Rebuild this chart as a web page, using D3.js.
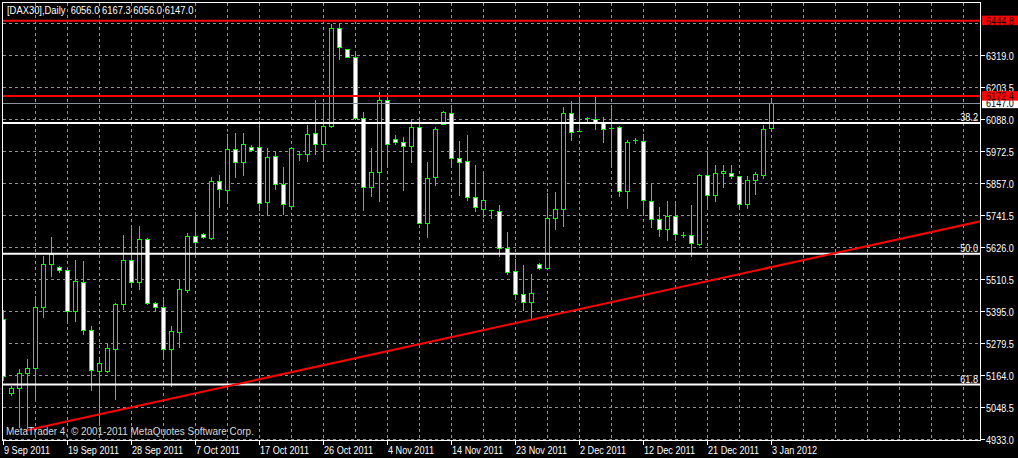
<!DOCTYPE html>
<html><head><meta charset="utf-8">
<script src="https://cdn.jsdelivr.net/npm/d3@7"></script>
<style>
html,body{margin:0;padding:0;background:#000;overflow:hidden}
svg{display:block}
text{font-family:"Liberation Sans",Arial,sans-serif;font-size:11px}
</style></head><body>
<svg id="chart" width="1018" height="458"></svg>
<script>
// ---------------- data ----------------
const symbol = "[DAX30],Daily";
const dates = ["2011-09-09","2011-09-11","2011-09-12","2011-09-13","2011-09-14","2011-09-15","2011-09-16","2011-09-18","2011-09-19","2011-09-20",
"2011-09-21","2011-09-22","2011-09-23","2011-09-25","2011-09-26","2011-09-27","2011-09-28","2011-09-29","2011-09-30","2011-10-02",
"2011-10-03","2011-10-04","2011-10-05","2011-10-06","2011-10-07","2011-10-09","2011-10-10","2011-10-11","2011-10-12","2011-10-13",
"2011-10-14","2011-10-16","2011-10-17","2011-10-18","2011-10-19","2011-10-20","2011-10-21","2011-10-23","2011-10-24","2011-10-25",
"2011-10-26","2011-10-27","2011-10-28","2011-10-30","2011-10-31","2011-11-01","2011-11-02","2011-11-03","2011-11-04","2011-11-06",
"2011-11-07","2011-11-08","2011-11-09","2011-11-10","2011-11-11","2011-11-13","2011-11-14","2011-11-15","2011-11-16","2011-11-17",
"2011-11-18","2011-11-20","2011-11-21","2011-11-22","2011-11-23","2011-11-24","2011-11-25","2011-11-27","2011-11-28","2011-11-29",
"2011-11-30","2011-12-01","2011-12-02","2011-12-04","2011-12-05","2011-12-06","2011-12-07","2011-12-08","2011-12-09","2011-12-11",
"2011-12-12","2011-12-13","2011-12-14","2011-12-15","2011-12-16","2011-12-18","2011-12-19","2011-12-20","2011-12-21","2011-12-22",
"2011-12-23","2011-12-27","2011-12-28","2011-12-29","2011-12-30","2012-01-02","2012-01-03"];
const open = [5365.0,5098.0,5116.0,5170.1,5188.2,5410.5,5563.6,5552.7,5541.9,5393.9,
5498.6,5326.4,5179.5,5179.5,5256.8,5419.2,5578.0,5500.8,5653.8,5422.8,
5410.5,5256.8,5320.3,5470.8,5665.7,5671.8,5659.6,5864.2,5830.7,5978.6,
5931.7,5985.8,5985.8,5787.3,5953.4,5852.3,5775.1,5960.6,5960.6,6036.4,
5996.7,6062.7,6415.4,6339.6,6312.9,6090.5,5843.7,5895.6,6156.6,6014.7,
6006.1,5991.6,6058.0,5713.7,5879.8,6069.9,6108.6,5946.1,5936.4,5805.4,
5764.3,5759.6,5756.0,5621.3,5539.4,5455.3,5428.6,5563.6,5549.1,5729.6,
5762.1,6108.6,6045.0,6090.5,6086.9,6072.5,6056.6,6058.0,5829.2,6011.1,
6009.7,5793.1,5725.9,5689.9,5737.9,5670.4,5668.2,5636.8,5884.8,5812.6,
5892.0,5892.0,5881.2,5780.1,5866.7,5884.8,6056.0];
const high = [5402.2,5127.9,5185.7,5221.8,5449.2,5597.1,5662.1,5560.0,5557.4,5579.1,
5575.5,5340.9,5232.5,5278.5,5425.0,5672.9,5705.4,5705.4,5658.5,5428.6,
5440.8,5340.9,5512.8,5680.1,5753.4,5677.6,5879.8,5885.9,6033.9,6037.5,
6037.5,5994.2,6080.8,5985.8,5976.1,5915.8,5988.0,5970.0,6066.4,6159.1,
6144.7,6430.9,6430.9,6340.7,6334.5,6113.3,5985.8,6189.0,6184.4,6030.3,
6024.1,6086.9,6096.3,5933.9,6062.7,6116.9,6128.8,6012.2,6030.3,5922.0,
5903.9,5759.6,5777.6,5681.2,5585.2,5564.6,5528.6,5570.8,5823.5,5825.6,
6132.4,6153.0,6168.5,6098.8,6168.5,6096.3,6138.5,6066.3,6014.7,6020.5,
6033.9,5853.9,5771.5,5795.6,5792.0,5681.2,5777.6,5892.0,5970.0,5922.0,
5922.0,5922.0,5882.3,5882.3,5897.8,6069.9,6167.3];
const low = [5142.4,5091.8,4975.0,4965.8,5067.6,5370.8,5518.8,5533.2,5356.4,5356.4,
5310.9,5107.3,4985.0,5174.8,5076.3,5402.2,5480.5,5474.4,5416.7,5395.0,
5224.3,5121.7,5264.0,5461.0,5604.3,5654.9,5653.8,5767.8,5787.3,5876.2,
5883.4,5976.1,5757.0,5744.0,5834.3,5744.0,5765.7,5940.0,5933.9,5958.1,
5940.0,6056.6,6303.5,6309.3,6088.0,5757.0,5807.6,5789.5,5915.8,5994.2,
5829.2,5930.3,5712.6,5660.3,5846.2,6067.4,5915.8,5810.1,5793.1,5753.4,
5733.2,5729.6,5591.5,5525.0,5437.3,5398.6,5365.0,5545.5,5545.5,5687.4,
5699.3,6012.2,6042.2,6078.3,6050.8,6003.9,5915.8,5807.6,5763.2,6000.3,
5748.2,5696.2,5663.2,5648.8,5648.8,5660.3,5593.5,5633.2,5759.6,5789.5,
5841.5,5874.0,5759.6,5765.7,5813.7,5874.0,6056.0];
const close = [5161.5,5116.0,5170.1,5188.2,5410.5,5563.6,5599.7,5541.9,5393.9,5502.2,
5326.4,5182.1,5206.2,5260.4,5420.3,5578.0,5500.8,5653.8,5422.8,5410.5,
5256.8,5322.8,5473.3,5665.7,5645.1,5660.3,5864.2,5834.3,5978.6,5931.7,
5996.7,5977.2,5783.7,5949.8,5852.3,5780.1,5982.3,5959.9,6032.8,5996.7,
6062.7,6415.4,6349.0,6312.9,6090.5,5843.7,5895.6,6156.6,5996.7,6006.1,
5991.6,6058.0,5713.7,5876.2,6051.9,6112.2,5948.3,5931.7,5805.4,5769.3,
5795.6,5757.8,5621.3,5536.9,5455.3,5428.6,5458.9,5549.1,5729.6,5762.1,
6108.6,6042.2,6045.0,6090.5,6078.3,6050.8,6056.6,5829.2,6006.1,6011.1,
5795.6,5725.9,5690.9,5737.9,5671.8,5670.4,5639.4,5884.8,5812.6,5892.0,
5900.3,5881.2,5780.1,5866.7,5888.4,6051.9,6147.0];
const yTicks = [4933.0,5048.5,5164.0,5279.5,5395.0,5510.5,5626.0,5741.5,5857.0,5972.5,6088.0,6203.5,6319.0,6434.5];
const yTickLabels = ["4933.0","5048.5","5164.0","5279.5","5395.0","5510.5","5626.0","5741.5","5857.0","5972.5","6088.0","6203.5","6319.0"];
const redLevels = [6444.8, 6172.4];
const bidPrice = 6147.0;
const fibLabels = ["38.2","50.0","61.8"];
const fibValues = [6075.0, 5603.3, 5131.5];
const trendIdx = [3, 66];
const trendPrice = [4965.8, 5365.0];
const copyright = "MetaTrader 4, \u00A9 2001-2011 MetaQuotes Software Corp.";

// ---------------- layout ----------------
const W = 1018, H = 458;
const L = 3, R = 980, T = 3, B = 440;
const SX = 0.83;    // squeeze for axis labels (MT4 narrow UI font)
const SXT = 0.855;  // title
const SXC = 0.905;  // copyright
const svg = d3.select("#chart");
svg.append("rect").attr("width",W).attr("height",H).attr("fill","#000");
svg.append("defs").append("clipPath").attr("id","clip")
  .append("rect").attr("x",L).attr("y",T).attr("width",R-L).attr("height",B-T);

function at(sel, fx, fy, sx){
  const s = sx || SX;
  return sel.attr("transform",(d,i)=>`translate(${fx(d,i)},${fy(d,i)}) scale(${s},1)`);
}

const n = dates.length;
const x = d3.scaleLinear().domain([0, n-1]).range([3.5, 3.5 + 8*(n-1)]);
const y = d3.scaleLinear().domain([4933.0, 6434.5]).range([439.5, 23.5]);
const parse = d3.timeParse("%Y-%m-%d");
const fmtDate = d3.timeFormat("%-d %b %Y");
const fmtPrice = d3.format(".1f");

const gridColor = "#8c949c";
const grid = svg.append("g").attr("shape-rendering","crispEdges");
grid.selectAll("line.h").data(yTicks).join("line").attr("class","h")
  .attr("x1",L).attr("x2",R).attr("y1",d=>y(d)).attr("y2",d=>y(d))
  .attr("stroke",gridColor).attr("stroke-dasharray","3,3");
const maxIdx = Math.floor(x.invert(R));
grid.selectAll("line.v").data(d3.range(4, maxIdx+1, 4)).join("line").attr("class","v")
  .attr("x1",d=>x(d)).attr("x2",d=>x(d)).attr("y1",T).attr("y2",B)
  .attr("stroke",gridColor).attr("stroke-dasharray","3,3");

// candles
const bars = d3.range(n);
const cg = svg.append("g").attr("clip-path","url(#clip)").attr("shape-rendering","crispEdges");
cg.selectAll("line.wick").data(bars).join("line").attr("class","wick")
  .attr("x1",i=>x(i)).attr("x2",i=>x(i))
  .attr("y1",i=>y(high[i])).attr("y2",i=>y(low[i]))
  .attr("stroke","#00ff00");
const isDoji = i => Math.abs(y(open[i]) - y(close[i])) < 1;
cg.selectAll("rect.body").data(bars.filter(i=>!isDoji(i))).join("rect").attr("class","body")
  .attr("x",i=>x(i)-2).attr("width",4)
  .attr("y",i=>Math.min(y(open[i]),y(close[i])))
  .attr("height",i=>Math.abs(y(open[i])-y(close[i])))
  .attr("fill",i=>close[i]>=open[i] ? "#000" : "#fff")
  .attr("stroke","#00ff00");
cg.selectAll("line.doji").data(bars.filter(isDoji)).join("line").attr("class","doji")
  .attr("x1",i=>x(i)-2.5).attr("x2",i=>x(i)+2.5)
  .attr("y1",i=>y(close[i])).attr("y2",i=>y(close[i]))
  .attr("stroke","#00ff00");

// objects
const og = svg.append("g").attr("clip-path","url(#clip)");
og.append("line").attr("x1",L).attr("x2",R)
  .attr("y1",Math.floor(y(bidPrice))+0.5).attr("y2",Math.floor(y(bidPrice))+0.5)
  .attr("stroke","#8a929a").attr("shape-rendering","crispEdges");
og.selectAll("line.fib").data(fibValues).join("line").attr("class","fib")
  .attr("x1",L).attr("x2",R).attr("y1",d=>y(d)).attr("y2",d=>y(d))
  .attr("stroke","#fff").attr("stroke-width",2);
at(og.selectAll("text.fib").data(fibValues).join("text").attr("class","fib"),
   ()=>R-2, d=>y(d)-2)
  .attr("text-anchor","end").attr("fill","#fff").text((d,i)=>fibLabels[i]);
og.selectAll("line.red").data(redLevels).join("line").attr("class","red")
  .attr("x1",L).attr("x2",R).attr("y1",d=>y(d)).attr("y2",d=>y(d))
  .attr("stroke","#ff0000").attr("stroke-width",2);
const slope = (trendPrice[1]-trendPrice[0])/(trendIdx[1]-trendIdx[0]);
const farIdx = maxIdx + 2;
og.append("line")
  .attr("x1",x(trendIdx[0])-2).attr("y1",y(trendPrice[0]))
  .attr("x2",x(farIdx)).attr("y2",y(trendPrice[0] + slope*(farIdx-trendIdx[0])))
  .attr("stroke","#ff0000").attr("stroke-width",2);

// frame
svg.append("rect").attr("x",2.5).attr("y",2.5).attr("width",R-2).attr("height",B-2)
  .attr("fill","none").attr("stroke","#fff").attr("shape-rendering","crispEdges");

// right price axis
const ax = svg.append("g");
ax.selectAll("line.tk").data(yTicks.slice(0, yTickLabels.length)).join("line").attr("class","tk")
  .attr("x1",R+1).attr("x2",R+5).attr("y1",d=>y(d)).attr("y2",d=>y(d))
  .attr("stroke","#fff").attr("shape-rendering","crispEdges");
at(ax.selectAll("text.tk").data(yTickLabels).join("text").attr("class","tk"),
   ()=>R+6, (d,i)=>y(yTicks[i])+4).attr("fill","#fff").text(d=>d);
// bid label (white box)
ax.append("rect").attr("x",R+2).attr("y",y(bidPrice)-4.5).attr("width",W-R-2).attr("height",9.5).attr("fill","#fff");
at(ax.append("text"), ()=>R+6, ()=>y(bidPrice)+4).attr("fill","#000").text(fmtPrice(bidPrice));
// red level labels
redLevels.forEach(v=>{
  ax.append("rect").attr("x",R+2).attr("y",y(v)-5).attr("width",W-R-2).attr("height",9.5).attr("fill","#ff0000");
  at(ax.append("text"), ()=>R+6, ()=>y(v)+4).attr("fill","#1a0000").text(fmtPrice(v));
});

// bottom time axis
const tickIdx = bars.filter(i=>i%8===0);
const bx = svg.append("g");
bx.selectAll("line").data(tickIdx).join("line")
  .attr("x1",i=>x(i)).attr("x2",i=>x(i)).attr("y1",B+1).attr("y2",B+5)
  .attr("stroke","#fff").attr("shape-rendering","crispEdges");
at(bx.selectAll("text").data(tickIdx).join("text"), i=>x(i)+0.5, ()=>453.5)
  .attr("fill","#fff").text(i=>fmtDate(parse(dates[i])));

// title & copyright
const last = n-1;
at(svg.append("text"), ()=>7, ()=>14, SXT).attr("fill","#fff").style("white-space","pre")
  .text(symbol + "  " + [open[last],high[last],low[last],close[last]].map(fmtPrice).join(" "));
at(svg.append("text"), ()=>6, ()=>435, SXC).attr("fill","#d8d8d8").text(copyright);
</script>
</body></html>
